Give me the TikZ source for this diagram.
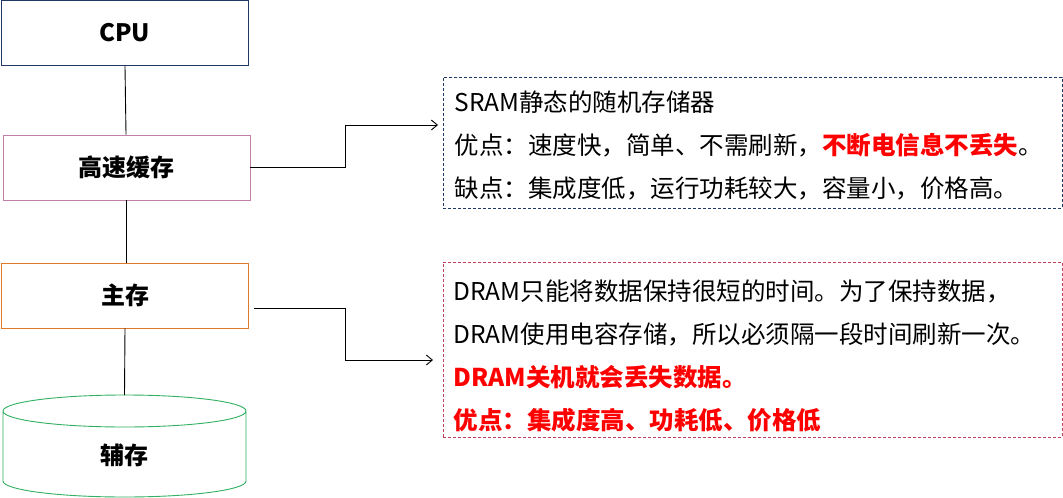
\documentclass[tikz,border=0pt]{standalone}
\usepackage{fontspec}
\setmainfont{Noto Sans CJK SC}
\usepackage{tikz}
\usetikzlibrary{arrows.meta}
\definecolor{navy}{HTML}{203864}
\definecolor{lilac}{HTML}{C080A8}
\definecolor{amber}{HTML}{E07828}
\definecolor{leaf}{HTML}{30B060}
\definecolor{rose}{HTML}{C04060}
\tikzset{
  level/.style={draw, minimum width=247pt, minimum height=65pt, font=\fontsize{24}{28}\selectfont\bfseries, line width=0.9pt},
  infobox/.style={draw, dash pattern=on 3pt off 2pt, line width=0.9pt, minimum width=619pt, anchor=north west},
  infotext/.style={anchor=west, align=left, font=\fontsize{24.5}{43}\selectfont},
  link/.style={line width=0.9pt},
}
\newcommand{\hot}[1]{\textcolor{red}{\bfseries #1}}
\begin{document}
\begin{tikzpicture}[x=1pt, y=-1pt]
  \useasboundingbox (0,0) rectangle (1063,498);
  % levels of the hierarchy
  \node (cpu) [level, draw=navy] at (124.5,33) {CPU};
  \node (cache) [level, draw=lilac] at (126.5,167.5) {高速缓存};
  \node (main) [level, draw=amber] at (125,295.5) {主存};
  % cylinder for the disk
  \draw[leaf, line width=0.9pt] (3,411) -- (3,481) arc[start angle=180, end angle=360, x radius=121.5pt, y radius=16pt]
    -- (246,411) arc[start angle=0, end angle=360, x radius=121.5pt, y radius=16pt];
  \coordinate (disktop) at (124.5,395);
  \node (disk) [font=\fontsize{24}{28}\selectfont\bfseries] at (124.5,455) {辅存};
  % notes
  \node (sram) [infobox, draw=navy, minimum height=131pt] at (443,77) {};
  \node (sramtext) [infotext] at (451,145) {SRAM静态的随机存储器\\
    优点：速度快，简单、不需刷新，\hot{不断电信息不丢失}。\\
    缺点：集成度低，运行功耗较大，容量小，价格高。};
  \node (dram) [infobox, draw=rose, minimum height=175pt] at (443,262) {};
  \node (dramtext) [infotext] at (450,356) {DRAM只能将数据保持很短的时间。为了保持数据，\\
    DRAM使用电容存储，所以必须隔一段时间刷新一次。\\
    \hot{DRAM关机就会丢失数据。}\\
    \hot{优点：集成度高、功耗低、价格低}};
  % connectors
  \draw[link] (cpu) -- (cache);
  \draw[link] (cache.south) -- (cache.south |- main.north);
  \draw[link] (main.south) -- (disktop);
  \draw[link, -{Straight Barb[length=6pt, width=10pt]}] (cache.east) -- (345,167.5) |- (438,125);
  \draw[link, -{Straight Barb[length=6pt, width=10pt]}] (main.east) ++(5,12.5) -- (345,308) |- (433,360);
\end{tikzpicture}
\end{document}
